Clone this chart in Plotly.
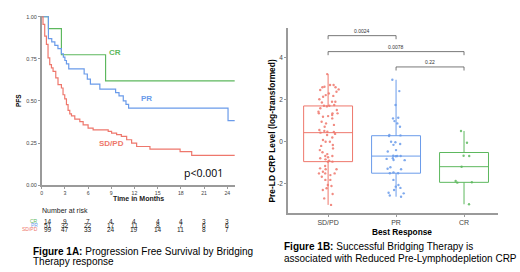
import plotly.graph_objects as go

# ---------------- data: Kaplan-Meier (Figure 1A) ----------------
cr_time = [0, 0.87, 2.55, 8.26, 24.96]
cr_surv = [1.0, 0.929, 0.774, 0.619, 0.619]

pr_time = [0, 0.87, 1.3, 1.7, 2.1, 2.55, 2.8, 3.0, 3.2, 3.5, 5.49, 5.9, 6.3,
           7.52, 9.56, 10.0, 10.55, 10.9, 11.24, 24.1, 24.96]
pr_surv = [1.0, 0.87, 0.85, 0.83, 0.81, 0.78, 0.76, 0.74, 0.72, 0.69, 0.66, 0.63, 0.60,
           0.57, 0.55, 0.53, 0.50, 0.48, 0.458, 0.383, 0.383]

sd_time = [0, 0.17, 0.39, 0.61, 0.82, 1.04, 1.26, 1.47, 1.82, 2.11, 2.55, 2.76, 2.98,
           3.2, 3.41, 3.63, 3.85, 4.28, 4.93, 5.36, 6.0, 6.65, 8.6, 9.04, 9.69, 10.3,
           10.99, 11.63, 12.28, 14.0, 17.9, 19.4, 24.96]
sd_surv = [1.0, 0.954, 0.885, 0.835, 0.756, 0.716, 0.696, 0.676, 0.637, 0.597, 0.577,
           0.537, 0.512, 0.478, 0.444, 0.424, 0.412, 0.392, 0.378, 0.358, 0.339, 0.329,
           0.32, 0.309, 0.30, 0.29, 0.27, 0.25, 0.23, 0.215, 0.20, 0.177, 0.177]

risk_times = [0, 3, 6, 9, 12, 15, 18, 21, 24]
risk_cr = [14, 9, 7, 4, 4, 4, 4, 3, 3]
risk_pr = [51, 32, 22, 17, 11, 8, 7, 6, 6]
risk_sd = [99, 47, 33, 24, 19, 14, 11, 8, 7]

km_xticks = [0, 3, 6, 9, 12, 15, 18, 21, 24]
km_yticks = [0, 0.25, 0.5, 0.75, 1.0]
km_yticklabels = ["0.00", "0.25", "0.50", "0.75", "1.00"]

# ---------------- data: CRP box plot (Figure 1B) ----------------
categories = ["SD/PD", "PR", "CR"]
crp_sdpd = [3.22, 2.70, 2.70, 2.62, 2.59, 2.59, 2.49, 2.46, 2.38, 2.30,
            2.22, 2.18, 2.14, 2.02, 1.90, 1.90, 1.87, 1.75, 1.71, 1.71,
            1.68, 1.59, 1.51, 1.43, 1.35, 1.35, 1.35, 1.27, 1.22, 1.19,
            1.11, 0.95, 0.87, 0.80, 0.71, 0.56, 0.51, 0.47, 0.43, 0.46,
            0.37, 0.32, 0.20, 0.08, 0.0, 0.0, -0.16, -0.20, -0.32, -0.40,
            -0.50, -0.59, -0.68, -0.68, -0.74, -0.79, -0.84, -0.90, -0.95, -0.95,
            -1.16, -1.27, -1.31, -1.31, -1.43, -1.51, -1.51, -1.51, -1.59, -1.67,
            -1.82, -1.82, -2.06, -2.11, -2.22, -2.30, -2.49, -2.70, -3.01]
crp_pr = [2.95, 2.41, 1.75, 1.14, 1.11, 0.98, 0.87, 0.71, 0.32, 0.30,
          0.27, 0.0, -0.03, -0.11, -0.15, -0.40, -0.47, -0.67, -0.68, -0.68,
          -0.69, -0.79, -0.82, -0.87, -0.88, -1.22, -1.29, -1.31, -1.46, -1.50,
          -1.50, -1.82, -2.06, -2.14, -2.20, -2.30, -2.43, -2.46, -2.56, -2.62]
crp_cr = [0.51, -0.05, -0.67, -0.68, -1.19, -1.87, -1.93, -1.95, -2.98]

comparisons = [("SD/PD", "PR", "0.0024", 5.05), ("SD/PD", "CR", "0.0078", 4.29), ("PR", "CR", "0.22", 3.56)]
box_yticks = [-2, 0, 2, 4]
box_yticklabels = ["-2", "0", "2", "4"]

RED = "#EE776C"
BLUE = "#6A9BEA"
GREEN = "#5DB85E"
AXIS = "#9a9a9a"
FONT = "Liberation Sans, Arial, sans-serif"

fig = go.Figure()

for t, s, c in [(cr_time, cr_surv, GREEN), (pr_time, pr_surv, BLUE), (sd_time, sd_surv, RED)]:
    fig.add_trace(go.Scatter(x=t, y=s, mode="lines", line=dict(shape="hv", color=c, width=1.2),
                             showlegend=False, hoverinfo="skip", xaxis="x", yaxis="y"))

for name, vals, c in [("SD/PD", crp_sdpd, RED), ("PR", crp_pr, BLUE), ("CR", crp_cr, GREEN)]:
    fig.add_trace(go.Box(y=vals, x=[name] * len(vals), name=name, boxpoints="all", jitter=0.45,
                         pointpos=0, whiskerwidth=0, width=0.72,
                         marker=dict(size=2.4, color=c, opacity=0.85),
                         line=dict(width=1, color=c), fillcolor="rgba(255,255,255,0)",
                         showlegend=False, xaxis="x2", yaxis="y2"))

W, H = 520, 272
def px(xp): return xp / W
def py(yp): return 1 - yp / H

def note(x, y, text, size, color="black", xref="paper", yref="paper", xanchor="center", yanchor="middle",
         family=FONT, **kw):
    return dict(x=x, y=y, xref=xref, yref=yref, text=text, showarrow=False, xanchor=xanchor,
                yanchor=yanchor, font=dict(size=size, color=color, family=family), **kw)

annotations = [
    note(9.5, 0.79, "<b>CR</b>", 8, GREEN, "x", "y"),
    note(13.6, 0.515, "<b>PR</b>", 8, BLUE, "x", "y"),
    note(9.05, 0.246, "<b>SD/PD</b>", 8, RED, "x", "y"),
    note(20.9, 0.073, "p<0.001", 10.5, "black", "x", "y", family="Open Sans, sans-serif"),
    note(px(18), py(101), "<b>PFS</b>", 6.5, textangle=-90),
    note(px(138), py(198.8), "<b>Time in Months</b>", 7, "#222"),
    note(px(64.5), py(210.3), "Number at risk", 7, "#222"),
]
rows = [("CR", risk_cr, GREEN, 221.3), ("PR", risk_pr, BLUE, 225.0), ("SD/PD", risk_sd, RED, 229.3)]
for lab, counts, c, ypix in rows:
    annotations.append(note(px(39.5), py(ypix), lab, 5, c, xanchor="right"))
    for t, n in zip(risk_times, counts):
        annotations.append(note(t, py(ypix), str(n), 6.5, "#222", "x", "paper", xshift=6 if t == 0 else 0))

annotations += [
    note(px(30.7), py(251), "<b>Figure 1A:</b> Progression Free Survival by Bridging", 10, xanchor="left"),
    note(px(30.7), py(261.7), "Therapy response", 10, xanchor="left"),
    note(px(282.3), py(246.7), "<b>Figure 1B:</b> Successful Bridging Therapy is", 10, xanchor="left"),
    note(px(282.3), py(258.3), "associated with Reduced Pre-Lymphodepletion CRP", 10, xanchor="left"),
    note(px(271), py(131.5), "<b>Pre-LD CRP Level (log-transformed)</b>", 8.4, textangle=-90),
    note(px(402), py(231.7), "<b>Best Response</b>", 8.3),
]

shapes = []
for a, b, p, yv in comparisons:
    xa, xb = categories.index(a), categories.index(b)
    for seg in [(xa, yv, xb, yv), (xa, yv, xa, yv - 0.17), (xb, yv, xb, yv - 0.17)]:
        shapes.append(dict(type="line", xref="x2", yref="y2", x0=seg[0], y0=seg[1], x1=seg[2], y1=seg[3],
                           line=dict(color="#555", width=0.8)))
    annotations.append(note((xa + xb) / 2, yv, p, 5, "#333", "x2", "y2", yanchor="bottom"))

axis_common = dict(showline=True, linecolor=AXIS, linewidth=1.5, ticks="outside", ticklen=2,
                   tickcolor=AXIS, showgrid=False, zeroline=False, automargin=False)

fig.update_layout(
    width=W, height=H, margin=dict(l=0, r=0, t=0, b=0, pad=0, autoexpand=False),
    paper_bgcolor="white", plot_bgcolor="white", showlegend=False,
    annotations=annotations, shapes=shapes,
    xaxis=dict(domain=[px(41.7), px(235)], range=[0, 25], tickvals=km_xticks,
               tickfont=dict(size=5.2, color="#444", family=FONT), anchor="y", **axis_common),
    yaxis=dict(domain=[py(185.3), py(16.3)], range=[0, 1.002], tickvals=km_yticks, ticktext=km_yticklabels,
               tickfont=dict(size=5.5, color="#444", family=FONT), anchor="x", **axis_common),
    xaxis2=dict(domain=[px(288), px(498)], range=[-0.59, 2.5], type="category", categoryorder="array",
                categoryarray=categories, tickfont=dict(size=7, color="#444", family=FONT),
                anchor="y2", **axis_common),
    yaxis2=dict(domain=[py(213.3), py(28.3)], range=[-3.41, 5.4], tickvals=box_yticks, ticktext=box_yticklabels,
                tickfont=dict(size=6.5, color="#444", family=FONT), anchor="x2", **axis_common),
)

fig.write_html("out.html", config={"responsive": False, "displayModeBar": False},
               post_script="document.body.style.margin='0';document.body.style.overflow='hidden';")
